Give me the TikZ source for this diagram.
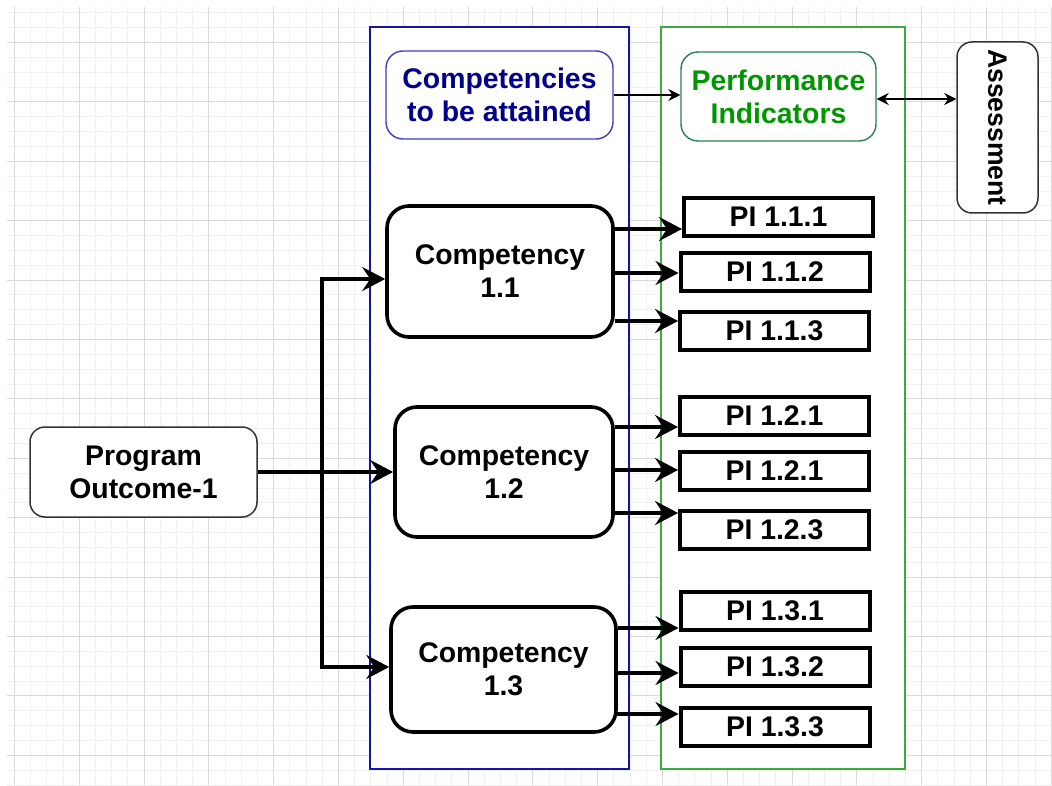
\documentclass[tikz,border=0pt]{standalone}
\usepackage{fontspec}
\setmainfont{Liberation Sans}
\usetikzlibrary{arrows.meta}

\definecolor{gridminor}{RGB}{240,240,240}
\definecolor{gridmajor}{RGB}{218,218,218}
\definecolor{zoneblue}{RGB}{20,20,170}
\definecolor{headblueline}{RGB}{60,60,200}
\definecolor{headblue}{RGB}{0,0,140}
\definecolor{zonegreen}{RGB}{60,170,60}
\definecolor{headgreenline}{RGB}{40,130,80}
\definecolor{headgreen}{RGB}{0,150,0}

\tikzset{
  lbl/.style={font=\bfseries\fontsize{28.4}{33}\selectfont, align=center, inner sep=0pt},
  softbox/.style={lbl, draw=black!80, line width=1.5pt, rounded corners=15pt, fill=white},
  headbox/.style={lbl, line width=1.4pt, rounded corners=17pt, fill=white},
  compbox/.style={lbl, draw=black, line width=3.6pt, rounded corners=22pt, fill=white},
  pibox/.style={lbl, draw=black, line width=4pt, fill=white, minimum width=189pt, minimum height=38pt},
  zone/.style={line width=1.3pt, fill=white, inner sep=0pt},
  conn/.style={line width=3.2pt, -{Stealth[length=23pt,width=24pt,inset=8pt]}},
  thinconn/.style={line width=1.4pt, -{Stealth[length=12pt,width=12pt,inset=4pt]}},
  twowayconn/.style={line width=1.4pt, {Stealth[length=12pt,width=12pt,inset=4pt]}-{Stealth[length=12pt,width=12pt,inset=4pt]}},
}

\begin{document}
\begin{tikzpicture}[x=1pt,y=-1pt]
\useasboundingbox[fill=white] (0,0) rectangle (1052,786);

% background grid, snapped to whole units so the lines stay crisp
\foreach \k in {0,...,64}
  \draw[gridminor, line width=1pt] ({round(14+16.2*\k)+0.5},7) -- ({round(14+16.2*\k)+0.5},785);
\foreach \k in {-2,...,50}
  \draw[gridminor, line width=1pt] (7,{round(42+14.85*\k)+0.5}) -- (1052,{round(42+14.85*\k)+0.5});
\foreach \k in {0,...,16}
  \draw[gridmajor, line width=1pt] ({round(14+64.8*\k)+0.5},7) -- ({round(14+64.8*\k)+0.5},785);
\foreach \k in {0,...,12}
  \draw[gridmajor, line width=1pt] (7,{round(42+59.4*\k)+0.5}) -- (1052,{round(42+59.4*\k)+0.5});

% swim lanes
\node[zone, draw=zoneblue, minimum width=259pt, minimum height=742pt] (complane) at (499.5,398) {};
\node[zone, draw=zonegreen, minimum width=244pt, minimum height=742pt] (pilane) at (783,398) {};

% headers and side boxes
\node[headbox, draw=headblueline, text=headblue, minimum width=227pt, minimum height=88pt] (comphead) at (499.5,95) {Competencies\\to be attained};
\node[headbox, draw=headgreenline, text=headgreen, minimum width=195pt, minimum height=89pt] (perfhead) at (778.5,96.5) {Performance\\Indicators};
\node[softbox, rotate=-90, font=\bfseries\fontsize{26.6}{30}\selectfont, minimum width=171pt, minimum height=81pt] (assess) at (997.5,127.5) {Assessment};
\node[softbox, minimum width=227pt, minimum height=90pt] (progout) at (143.5,472) {Program\\Outcome-1};

% competencies
\node[compbox, minimum width=226pt, minimum height=131pt] (comp1) at (500,271.5) {Competency\\1.1};
\node[compbox, minimum width=218pt, minimum height=130pt] (comp2) at (504,472) {Competency\\1.2};
\node[compbox, minimum width=225pt, minimum height=125pt] (comp3) at (503.5,669.5) {Competency\\1.3};

% performance indicators
\node[pibox] (pi111) at (778.5,217) {PI 1.1.1};
\node[pibox] (pi112) at (775,272) {PI 1.1.2};
\node[pibox] (pi113) at (774.5,331) {PI 1.1.3};
\node[pibox] (pi121) at (774.5,415.5) {PI 1.2.1};
\node[pibox] (pi122) at (774.5,470.5) {PI 1.2.1};
\node[pibox] (pi123) at (774.5,530) {PI 1.2.3};
\node[pibox] (pi131) at (775,611) {PI 1.3.1};
\node[pibox] (pi132) at (775,667) {PI 1.3.2};
\node[pibox] (pi133) at (775,726.5) {PI 1.3.3};

% header links
\draw[thinconn] (comphead.east) -- (perfhead.west |- comphead.east);
\draw[twowayconn] (perfhead.east |- 0,99) -- (assess.south |- 0,99);

% programme outcome to competencies
\coordinate (split) at (322,472);
\draw[conn] (progout.east) -- (comp2.west |- progout.east);
\draw[conn] (split) |- (comp1.west |- 0,279);
\draw[conn] (split) |- (comp3.west |- 0,667);

% competencies to indicators
\draw[conn] (comp1.east |- 0,229) -- (pi111.west |- 0,229);
\draw[conn] (comp1.east |- 0,273) -- (pi112.west |- 0,273);
\draw[conn] (comp1.east |- 0,321) -- (pi113.west |- 0,321);
\draw[conn] (comp2.east |- 0,427) -- (pi121.west |- 0,427);
\draw[conn] (comp2.east |- 0,470) -- (pi122.west |- 0,470);
\draw[conn] (comp2.east |- 0,513) -- (pi123.west |- 0,513);
\draw[conn] (comp3.east |- 0,628) -- (pi131.west |- 0,628);
\draw[conn] (comp3.east |- 0,673) -- (pi132.west |- 0,673);
\draw[conn] ([xshift=-4pt]comp3.east |- 0,714) -- (pi133.west |- 0,714);
\end{tikzpicture}
\end{document}
